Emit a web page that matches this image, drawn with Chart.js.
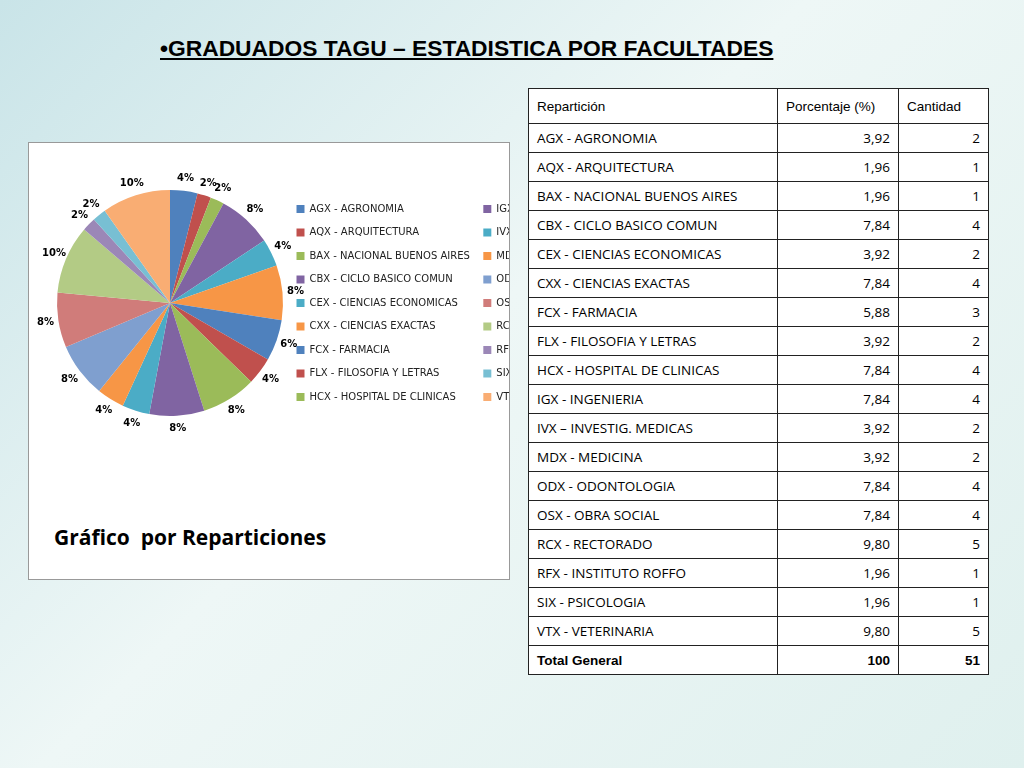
<!DOCTYPE html>
<html><head><meta charset="utf-8">
<script src="https://cdn.jsdelivr.net/npm/chart.js@4"></script>
<style>
body{margin:0;width:1024px;height:768px;overflow:hidden;background:linear-gradient(135deg,#c9e4e8 0%,#eef7f6 45%,#dff0ee 100%);font-family:"Liberation Sans",Arial,sans-serif;position:relative}
#title{position:absolute;left:160px;top:35px;font-weight:bold;font-size:22.8px;text-decoration:underline;color:#000}
#box{position:absolute;left:28px;top:142px;width:480px;height:436px;background:#fff;border:1px solid #999}
#c{position:absolute;left:0;top:0}
#cap{position:absolute;left:25px;top:380px;font-family:"Open Sans",sans-serif;font-weight:bold;font-size:21px}
table{position:absolute;left:528px;top:88px;width:461px;border-collapse:collapse;background:#fff;font-size:13.5px}
td{border:1px solid #222;height:28px;padding:0 8px;font-family:"Open Sans",sans-serif}
td.n{text-align:right}
tr.h td{height:34px;font-family:"Liberation Sans",Arial;font-size:13.5px}
tr.t td{font-family:"Liberation Sans",Arial;font-weight:bold}
</style></head><body>
<div id="title">&bull;GRADUADOS TAGU – ESTADISTICA POR FACULTADES</div>
<div id="box"><div id="cap">Gráfico&nbsp; por Reparticiones</div><canvas id="c" width="480" height="430"></canvas></div>
<table id="tb"></table>
<script>
const legendLabels=["AGX - AGRONOMIA","AQX - ARQUITECTURA","BAX - NACIONAL BUENOS AIRES","CBX - CICLO BASICO COMUN","CEX - CIENCIAS ECONOMICAS","CXX - CIENCIAS EXACTAS","FCX - FARMACIA","FLX - FILOSOFIA Y LETRAS","HCX - HOSPITAL DE CLINICAS","IGX - INGENIERIA","IVX - INVESTIGACIONES MEDICAS","MDX - MEDICINA","ODX - ODONTOLOGIA","OSX - OBRA SOCIAL","RCX - RECTORADO","RFX - INSTITUTO ROFFO","SIX - PSICOLOGIA","VTX - VETERINARIA"];
const tableLabels=["AGX - AGRONOMIA","AQX - ARQUITECTURA","BAX - NACIONAL BUENOS AIRES","CBX - CICLO BASICO COMUN","CEX - CIENCIAS ECONOMICAS","CXX - CIENCIAS EXACTAS","FCX - FARMACIA","FLX - FILOSOFIA Y LETRAS","HCX - HOSPITAL DE CLINICAS","IGX - INGENIERIA","IVX – INVESTIG. MEDICAS","MDX - MEDICINA","ODX - ODONTOLOGIA","OSX - OBRA SOCIAL","RCX - RECTORADO","RFX - INSTITUTO ROFFO","SIX - PSICOLOGIA","VTX - VETERINARIA"];
const percents=["3,92","1,96","1,96","7,84","3,92","7,84","5,88","3,92","7,84","7,84","3,92","3,92","7,84","7,84","9,80","1,96","1,96","9,80"];
const counts=[2,1,1,4,2,4,3,2,4,4,2,2,4,4,5,1,1,5];
const pieLabels=["4%","2%","2%","8%","4%","8%","6%","4%","8%","8%","4%","4%","8%","8%","10%","2%","2%","10%"];
const colors=["#4F81BD","#C0504D","#9BBB59","#8064A2","#4BACC6","#F79646","#4F81BD","#C0504D","#9BBB59","#8064A2","#4BACC6","#F79646","#7F9FCF","#D07C7A","#B3CB85","#9B87B7","#78BFD3","#F9AD73"];
let h='<tr class="h"><td style="width:232px">Repartición</td><td style="width:104px">Porcentaje (%)</td><td>Cantidad</td></tr>';
tableLabels.forEach((l,i)=>{h+=`<tr><td>${l}</td><td class="n">${percents[i]}</td><td class="n">${counts[i]}</td></tr>`});
h+='<tr class="t"><td>Total General</td><td class="n">100</td><td class="n">51</td></tr>';
document.getElementById('tb').innerHTML=h;
const lbl={id:'lbl',afterDatasetsDraw(ch){const ctx=ch.ctx;ctx.save();ctx.font='bold 10px "DejaVu Sans"';ctx.fillStyle='#000';ctx.textAlign='center';ctx.textBaseline='middle';
ch.getDatasetMeta(0).data.forEach((a,i)=>{const m=(a.startAngle+a.endAngle)/2,r=a.outerRadius+13;ctx.fillText(pieLabels[i],a.x+Math.cos(m)*r,a.y+Math.sin(m)*r);});ctx.restore();}};
new Chart(document.getElementById('c'),{type:'pie',data:{labels:legendLabels,datasets:[{data:counts,backgroundColor:colors,borderWidth:0}]},
options:{responsive:false,animation:false,layout:{padding:{left:28,top:40,bottom:150,right:0}},plugins:{tooltip:{enabled:false},legend:{position:'right',labels:{boxWidth:8,boxHeight:8,padding:13.5,font:{size:10,family:'"DejaVu Sans"'},color:'#222'}}}},plugins:[lbl]});
</script></body></html>
